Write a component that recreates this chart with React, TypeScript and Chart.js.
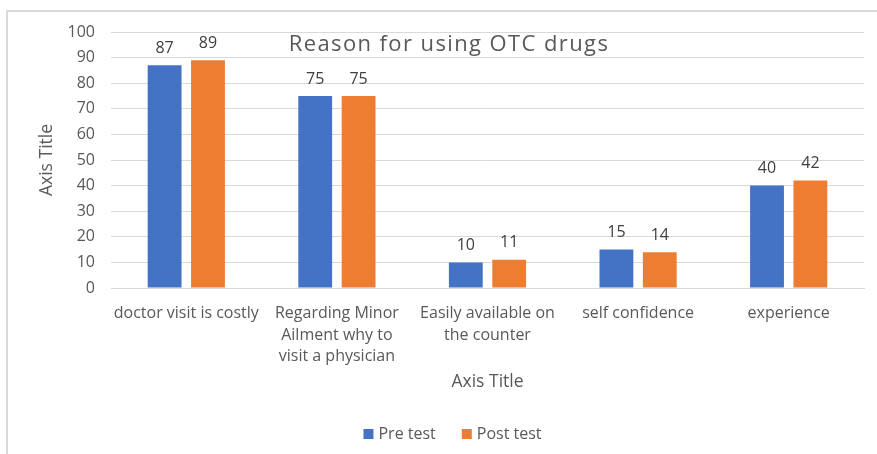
import React, { useEffect, useRef } from "react";
import { Chart, registerables } from "chart.js";

Chart.register(...registerables);

const categories: string[][] = [
  ["doctor visit is costly"],
  ["Regarding Minor", "Ailment why to", "visit a physician"],
  ["Easily available on", "the counter"],
  ["self confidence"],
  ["experience"],
];
const preTest: number[] = [87, 75, 10, 15, 40];
const postTest: number[] = [89, 75, 11, 14, 42];
const yTicks: number[] = [0, 10, 20, 30, 40, 50, 60, 70, 80, 90, 100];
const seriesNames: string[] = ["Pre test", "Post test"];
const seriesColors: string[] = ["#4472C4", "#ED7D31"];
const chartTitle = "Reason for using OTC drugs";
const FONT = "'Open Sans', sans-serif";
const TEXT = "#595959";

const labelPlugin = {
  id: "dataLabels",
  afterDatasetsDraw(chart: any) {
    const ctx = chart.ctx;
    ctx.save();
    ctx.font = `16px ${FONT}`;
    ctx.fillStyle = "#404040";
    ctx.textAlign = "center";
    ctx.textBaseline = "bottom";
    chart.data.datasets.forEach((ds: any, i: number) => {
      const meta = chart.getDatasetMeta(i);
      meta.data.forEach((bar: any, j: number) => {
        ctx.fillText(String(ds.data[j]), bar.x, bar.y - 9);
      });
    });
    ctx.restore();

    // overlaid chart title
    const area = chart.chartArea;
    ctx.save();
    ctx.font = `22px ${FONT}`;
    ctx.fillStyle = TEXT;
    ctx.textAlign = "center";
    ctx.textBaseline = "middle";
    try {
      ctx.letterSpacing = "1.4px";
    } catch (e) {}
    ctx.fillText(chartTitle, 449, area.top + 13);
    ctx.restore();

    // legend
    ctx.save();
    ctx.font = `16px ${FONT}`;
    ctx.textAlign = "left";
    ctx.textBaseline = "middle";
    const box = 10;
    const gapText = 5;
    const gapItem = 26;
    const widths = seriesNames.map((n) => box + gapText + ctx.measureText(n).width);
    const total = widths.reduce((a, b) => a + b, 0) + gapItem * (seriesNames.length - 1);
    let x = 452.5 - total / 2;
    const y = 434;
    seriesNames.forEach((n, i) => {
      ctx.fillStyle = seriesColors[i];
      ctx.fillRect(x, y - box / 2, box, box);
      ctx.fillStyle = TEXT;
      ctx.fillText(n, x + box + gapText, y);
      x += widths[i] + gapItem;
    });
    ctx.restore();
  },
};

export default function App() {
  const ref = useRef<HTMLCanvasElement | null>(null);
  useEffect(() => {
    if (!ref.current) return;
    const chart = new Chart(ref.current, {
      type: "bar",
      data: {
        labels: categories,
        datasets: [
          { label: seriesNames[0], data: preTest, backgroundColor: seriesColors[0] },
          { label: seriesNames[1], data: postTest, backgroundColor: seriesColors[1] },
        ],
      },
      options: {
        animation: false,
        responsive: false,
        maintainAspectRatio: false,
        layout: { padding: { left: 0, right: 13, top: 32, bottom: 37 } },
        datasets: {
          bar: { categoryPercentage: 0.576, barPercentage: 0.78 },
        },
        scales: {
          x: {
            grid: { display: false, drawTicks: false },
            border: { display: true, color: "#d9d9d9", width: 1 },
            ticks: {
              color: TEXT,
              font: { family: FONT, size: 16, lineHeight: 1.34 },
              padding: 15,
              maxRotation: 0,
              autoSkip: false,
            },
            title: {
              display: true,
              text: "Axis Title",
              color: TEXT,
              font: { family: FONT, size: 17.5 },
              padding: { top: 0, bottom: 24.5 },
            },
            afterFit: (s: any) => {
              s.height = 129;
            },
          },
          y: {
            min: 0,
            max: 100,
            afterBuildTicks: (s: any) => {
              s.ticks = yTicks.map((v) => ({ value: v }));
            },
            grid: { color: "#d9d9d9", drawTicks: false },
            border: { display: false },
            ticks: {
              color: TEXT,
              font: { family: FONT, size: 16 },
              padding: 16,
            },
            title: {
              display: true,
              text: "Axis Title",
              color: TEXT,
              font: { family: FONT, size: 17.5 },
              padding: { top: 37, bottom: 0 },
            },
            afterFit: (s: any) => {
              s.width = 111;
            },
          },
        },
        plugins: {
          legend: { display: false },
          title: { display: false },
          tooltip: { enabled: false },
        },
      },
      plugins: [labelPlugin],
    });
    return () => chart.destroy();
  }, []);

  return (
    <div style={{ position: "fixed", left: 0, top: 0, width: 877, height: 454, overflow: "hidden", background: "#fff" }}>
      <div
        style={{
          position: "absolute",
          left: 6,
          top: 10,
          width: 1000,
          height: 1000,
          border: "2px solid #d9d9d9",
          boxSizing: "border-box",
        }}
      />
      <canvas ref={ref} width={877} height={454} style={{ position: "absolute", left: 0, top: 0 }} />
    </div>
  );
}
